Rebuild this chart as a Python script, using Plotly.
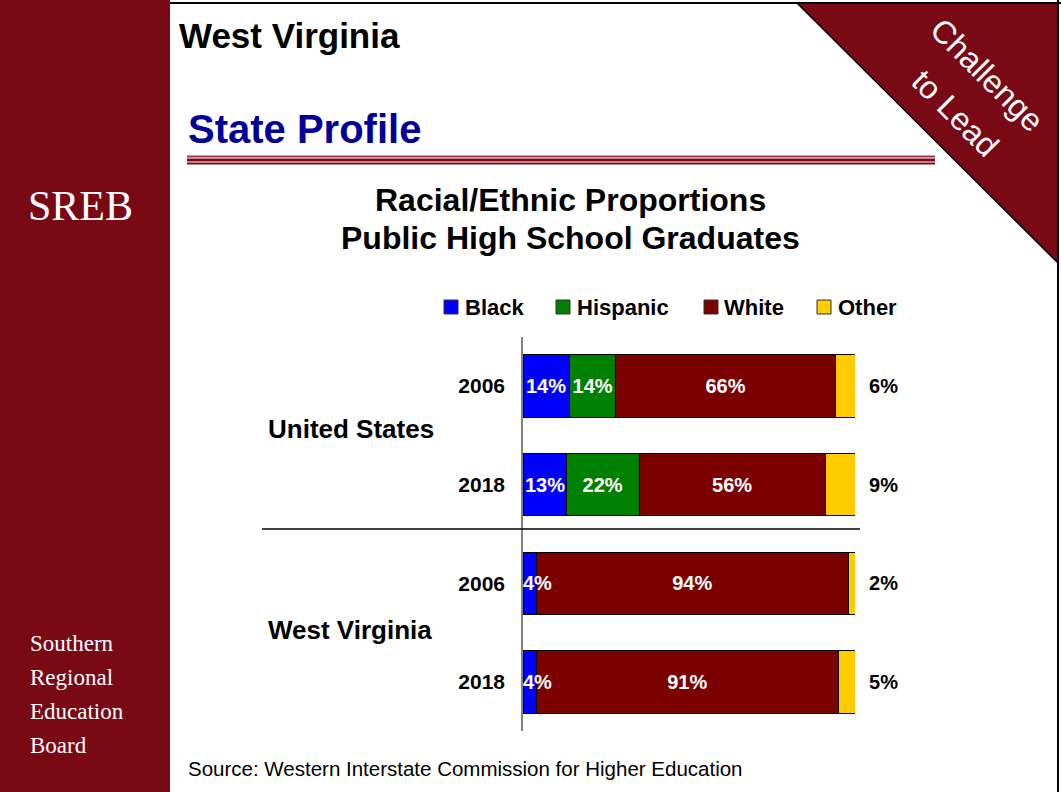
import plotly.graph_objects as go

W, H = 1061, 792

def px(x):
    return x / W

def py(y):
    return 1 - y / H

# ---- data ----
rows = ["US 2006", "US 2018", "WV 2006", "WV 2018"]
row_pos = [3, 2, 1, 0]
year_labels = ["2006", "2018", "2006", "2018"]
groups = ["United States", "West Virginia"]
black = [14, 13, 4, 4]
hispanic = [14, 22, None, None]
white = [66, 56, 94, 91]
other = [6, 9, 2, 5]

series_names = ["Black", "Hispanic", "White", "Other"]
series_colors = ["#0000FF", "#008000", "#7B0000", "#FFCC00"]
series_values = [black, hispanic, white, other]

FONT = "Liberation Sans"
SERIF = "Liberation Serif"
MAROON = "#7A0916"
NBSP = "\u00a0"

fig = go.Figure()
for name, vals, col in zip(series_names, series_values, series_colors):
    is_other = name == "Other"
    is_black = name == "Black"
    fig.add_trace(go.Bar(
        name=name,
        x=vals,
        y=row_pos,
        orientation="h",
        width=0.63,
        marker=dict(color=col, line=dict(color="#000000", width=1)),
        texttemplate=(NBSP * 2 + "%{x}%") if is_other else "%{x}%",
        textposition="none" if is_black else ("outside" if is_other else "inside"),
        insidetextanchor="middle",
        textangle=0,
        constraintext="none",
        insidetextfont=dict(family=FONT, size=20, color="white", weight="bold"),
        outsidetextfont=dict(family=FONT, size=20, color="black", weight="bold"),
        cliponaxis=False,
        showlegend=False,
        hoverinfo="skip",
    ))

shapes = []
# left sidebar
shapes.append(dict(type="rect", xref="paper", yref="paper",
                   x0=px(0), x1=px(170), y0=py(792), y1=py(0),
                   fillcolor=MAROON, line=dict(width=0), layer="below"))
# top border line
shapes.append(dict(type="line", xref="paper", yref="paper",
                   x0=px(170), x1=px(1061), y0=py(3), y1=py(3),
                   line=dict(color="black", width=2)))
# right border line
shapes.append(dict(type="line", xref="paper", yref="paper",
                   x0=px(1058), x1=px(1058), y0=py(0), y1=py(792),
                   line=dict(color="black", width=2)))
# corner triangle
shapes.append(dict(type="path", xref="paper", yref="paper",
                   path=f"M {px(797)} {py(3)} L {px(1058)} {py(3)} L {px(1058)} {py(263)} Z",
                   fillcolor=MAROON, line=dict(color="black", width=1.5)))
# decorative lines under State Profile
for yy, w, c in [(156.5, 2, "#9B3545"), (160, 3, MAROON), (163.5, 2, MAROON)]:
    shapes.append(dict(type="line", xref="paper", yref="paper",
                       x0=px(187), x1=px(935), y0=py(yy), y1=py(yy),
                       line=dict(color=c, width=w)))
# separator between US and WV
shapes.append(dict(type="line", xref="paper", yref="paper",
                   x0=px(262), x1=px(860), y0=py(529), y1=py(529),
                   line=dict(color="black", width=1.5)))

annotations = []

def ann(text, x, y, size, color="black", family=FONT, weight="normal",
        xanchor="left", angle=0):
    annotations.append(dict(text=text, xref="paper", yref="paper",
                            x=px(x), y=py(y), xanchor=xanchor, yanchor="middle",
                            showarrow=False, textangle=angle,
                            font=dict(family=family, size=size, color=color, weight=weight)))

# Black segment labels drawn on top (they overflow narrow segments)
for v, yp in zip(black, row_pos):
    annotations.append(dict(text=f"{v}%", xref="x", yref="y",
                            x=max(v / 2, 4.4), y=yp, xanchor="center", yanchor="middle",
                            showarrow=False,
                            font=dict(family=FONT, size=20, color="white", weight="bold")))

# legend (squares + labels)
legend_square_x = [444, 556, 704, 817]
legend_text_x = [463, 575, 722, 836]
for name, col, sx, tx in zip(series_names, series_colors, legend_square_x, legend_text_x):
    shapes.append(dict(type="rect", xref="paper", yref="paper",
                       x0=px(sx), x1=px(sx + 14), y0=py(314), y1=py(300),
                       fillcolor=col, line=dict(color="#333333", width=1)))
    ann(name, tx, 307, 22, weight="bold")

ann("West Virginia", 177, 35, 35, weight="bold")
ann("State Profile", 186, 129, 40, color="#000099", weight="bold")
ann("Racial/Ethnic Proportions", 570, 200, 32, weight="bold", xanchor="center")
ann("Public High School Graduates", 570, 238, 32, weight="bold", xanchor="center")
ann(groups[0], 266, 429, 26, weight="bold")
ann(groups[1], 266, 630, 26, weight="bold")
ann("Source: Western Interstate Commission for Higher Education", 186, 768, 20.5)
ann("SREB", 26, 206, 42, color="white", family=SERIF)
for i, t in enumerate(["Southern", "Regional", "Education", "Board"]):
    ann(t, 28, 643 + 34 * i, 23, color="white", family=SERIF)
ann("Challenge", 987, 75, 32, color="white", xanchor="center", angle=45)
ann("to Lead", 955, 113, 32, color="white", xanchor="center", angle=45)

fig.update_layout(
    width=W, height=H,
    margin=dict(l=0, r=0, t=0, b=0),
    paper_bgcolor="white", plot_bgcolor="white",
    barmode="stack",
    showlegend=False,
    xaxis=dict(domain=[px(523), px(855)], range=[0, 100], visible=False, fixedrange=True),
    yaxis=dict(domain=[py(731.3), py(336.7)], range=[-0.5, 3.5],
               tickmode="array", tickvals=row_pos, ticktext=year_labels,
               showline=True, linecolor="#808080", linewidth=1.5,
               showgrid=False, zeroline=False, ticks="", ticklabelstandoff=12,
               tickfont=dict(family=FONT, size=21, color="black", weight="bold"),
               fixedrange=True),
    shapes=shapes,
    annotations=annotations,
    font=dict(family=FONT),
)

fig.write_html("out.html", config={"displayModeBar": False},
               post_script="document.body.style.margin='0';document.body.style.overflow='hidden';")
